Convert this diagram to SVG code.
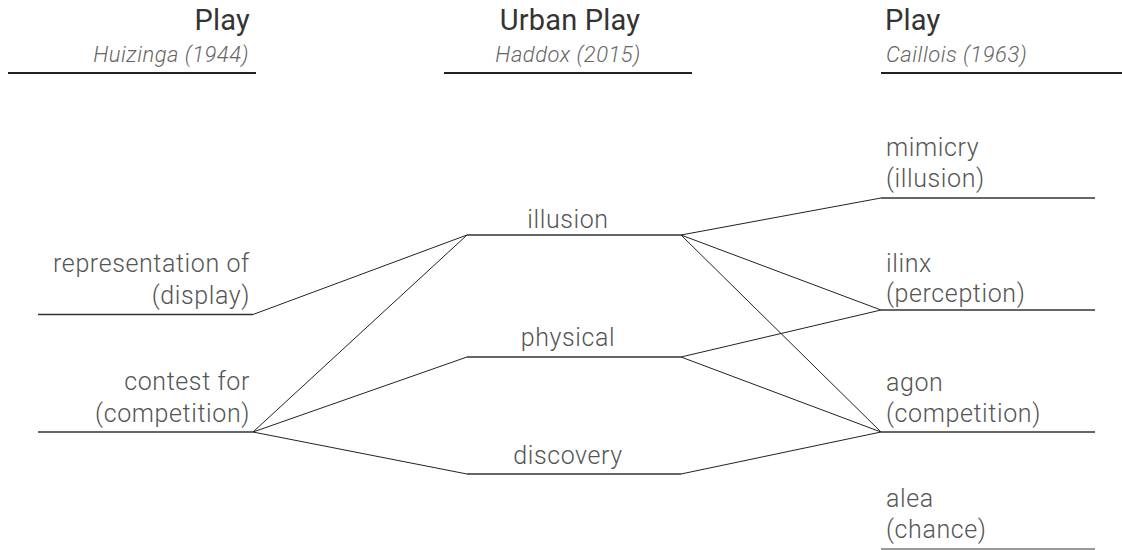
<svg xmlns="http://www.w3.org/2000/svg" width="1122" height="550" viewBox="0 0 1122 550">
<style>
.bg{fill:#fff}
.ttl{font-family:Roboto,"Liberation Sans",Arial,sans-serif;font-size:29px;font-weight:400;fill:#333;letter-spacing:0.2px}
.sub{font-family:Roboto,"Liberation Sans",Arial,sans-serif;font-size:22px;font-weight:300;font-style:italic;fill:#666;letter-spacing:0.5px}
.lbl{font-family:Roboto,"Liberation Sans",Arial,sans-serif;font-size:25px;font-weight:300;fill:#555;letter-spacing:0.6px}
.hl{stroke:#222;stroke-width:2}
.nl{stroke:#333;stroke-width:1.5}
.cn{stroke:#222;stroke-width:1;fill:none}
.r{text-anchor:end}
.m{text-anchor:middle}
</style>
<rect class="bg" x="0" y="0" width="1122" height="550"/>
<g id="header-huizinga">
<text class="ttl r" x="250" y="30">Play</text>
<text class="sub r" x="249" y="62">Huizinga (1944)</text>
<line class="hl" x1="8" y1="73" x2="256" y2="73"/>
</g>
<g id="header-haddox">
<text class="ttl m" x="570" y="30">Urban Play</text>
<text class="sub m" x="568" y="62">Haddox (2015)</text>
<line class="hl" x1="444" y1="73" x2="692" y2="73"/>
</g>
<g id="header-caillois">
<text class="ttl" x="885" y="30">Play</text>
<text class="sub" x="886" y="62">Caillois (1963)</text>
<line class="hl" x1="881" y1="73" x2="1122" y2="73"/>
</g>
<g id="node-representation">
<text class="lbl r" x="250" y="272">representation of</text>
<text class="lbl r" x="250" y="304">(display)</text>
<line class="nl" x1="38" y1="314.5" x2="253" y2="314.5"/>
</g>
<g id="node-contest">
<text class="lbl r" x="250" y="390">contest for</text>
<text class="lbl r" x="250" y="422">(competition)</text>
<line class="nl" x1="38" y1="432" x2="253" y2="432"/>
</g>
<g id="node-illusion">
<text class="lbl m" x="568" y="228">illusion</text>
<line class="nl" x1="467" y1="235" x2="681" y2="235"/>
</g>
<g id="node-physical">
<text class="lbl m" x="568" y="346">physical</text>
<line class="nl" x1="467" y1="357" x2="681" y2="357"/>
</g>
<g id="node-discovery">
<text class="lbl m" x="568" y="464">discovery</text>
<line class="nl" x1="467" y1="474" x2="681" y2="474"/>
</g>
<g id="node-mimicry">
<text class="lbl" x="886" y="156">mimicry</text>
<text class="lbl" x="886" y="187">(illusion)</text>
<line class="nl" x1="881" y1="198" x2="1095" y2="198"/>
</g>
<g id="node-ilinx">
<text class="lbl" x="886" y="272">ilinx</text>
<text class="lbl" x="886" y="302">(perception)</text>
<line class="nl" x1="881" y1="310" x2="1095" y2="310"/>
</g>
<g id="node-agon">
<text class="lbl" x="886" y="391">agon</text>
<text class="lbl" x="886" y="422">(competition)</text>
<line class="nl" x1="881" y1="432" x2="1095" y2="432"/>
</g>
<g id="node-alea">
<text class="lbl" x="886" y="507">alea</text>
<text class="lbl" x="886" y="538">(chance)</text>
<line class="nl" x1="881" y1="549" x2="1095" y2="549" style="stroke:#777"/>
</g>
<g id="connectors">
<line class="cn" x1="253" y1="314.5" x2="467" y2="235"/>
<line class="cn" x1="253" y1="432" x2="467" y2="235"/>
<line class="cn" x1="253" y1="432" x2="467" y2="357"/>
<line class="cn" x1="253" y1="432" x2="467" y2="474"/>
<line class="cn" x1="681" y1="235" x2="881" y2="198"/>
<line class="cn" x1="681" y1="235" x2="881" y2="310"/>
<line class="cn" x1="681" y1="235" x2="881" y2="432"/>
<line class="cn" x1="681" y1="357" x2="881" y2="310"/>
<line class="cn" x1="681" y1="357" x2="881" y2="432"/>
<line class="cn" x1="681" y1="474" x2="881" y2="432"/>
</g>
</svg>
